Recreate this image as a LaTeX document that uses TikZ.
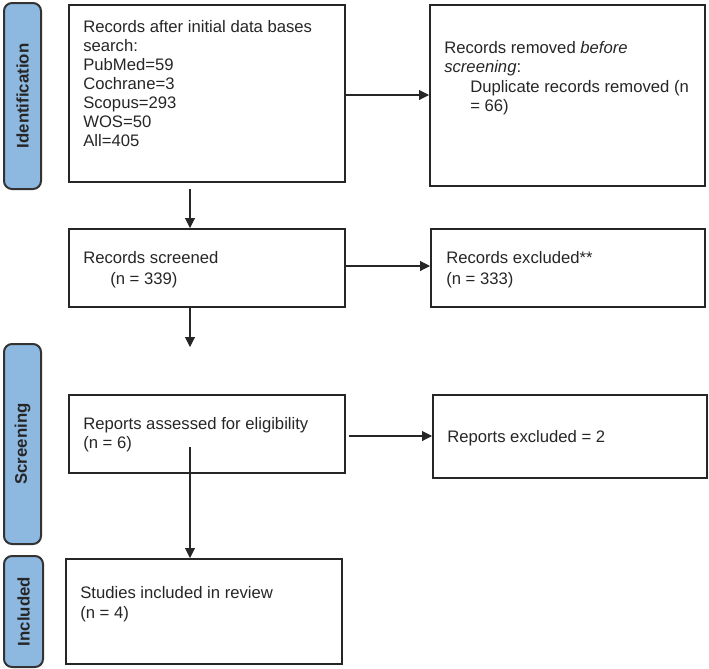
\documentclass[tikz,border=0pt]{standalone}
\usepackage{fontspec}
\setmainfont{Liberation Sans}
\usetikzlibrary{arrows.meta}
\definecolor{barfill}{HTML}{8DB8E0}
\definecolor{barline}{HTML}{333333}
\tikzset{
  box/.style={draw=black!85, line width=1.4pt, anchor=north west, inner sep=0pt},
  bar/.style={draw=barline, fill=barfill, line width=1.5pt, rounded corners=6pt, anchor=north west, inner sep=0pt},
  bartext/.style={font=\fontsize{12.6}{14}\selectfont\bfseries, text=black!85, rotate=90},
  txt/.style={font=\fontsize{12.5}{14.6}\selectfont, anchor=base west, inner sep=0pt, text=black!85},
  arr/.style={draw=black!85, line width=0.8pt, -{Triangle[length=7.5pt,width=7.5pt]}}
}
\begin{document}
\begin{tikzpicture}[x=0.75pt,y=-0.75pt]
\useasboundingbox (0,0) rectangle (709,668);
% side bars
\node[bar, minimum width=37*0.75pt, minimum height=186*0.75pt] (bar1) at (3,2) {};
\node[bar, minimum width=37*0.75pt, minimum height=200*0.75pt] (bar2) at (3,343) {};
\node[bar, minimum width=39*0.75pt, minimum height=111*0.75pt] (bar3) at (3,555) {};
\node[bartext] (lab1) at (bar1.center) {Identification};
\node[bartext] (lab2) at (bar2.center) {Screening};
\node[bartext] (lab3) at (bar3.center) {Included};
% boxes
\node[box, minimum width=276*0.75pt, minimum height=177*0.75pt] (b1) at (68,4) {};
\node[box, minimum width=275*0.75pt, minimum height=181*0.75pt] (b2) at (429,4) {};
\node[box, minimum width=276*0.75pt, minimum height=78*0.75pt] (b3) at (68,228) {};
\node[box, minimum width=274*0.75pt, minimum height=78*0.75pt] (b4) at (430,228) {};
\node[box, minimum width=276*0.75pt, minimum height=78*0.75pt] (b5) at (68,394) {};
\node[box, minimum width=274*0.75pt, minimum height=83*0.75pt] (b6) at (432,394) {};
\node[box, minimum width=276*0.75pt, minimum height=105*0.75pt] (b7) at (65,558) {};
% texts
\node[txt] (t1a) at (83,32) {Records after initial data bases};
\node[txt] (t1b) at (83,51) {search:};
\node[txt] (t1c) at (83,70) {PubMed=59};
\node[txt] (t1d) at (83,89) {Cochrane=3};
\node[txt] (t1e) at (83,108) {Scopus=293};
\node[txt] (t1f) at (83,127) {WOS=50};
\node[txt] (t1g) at (83,146) {All=405};
\node[txt] (t2a) at (444,53) {Records removed \textit{before}};
\node[txt] (t2b) at (444,72) {\textit{screening}:};
\node[txt] (t2c) at (470,92) {Duplicate records removed (n};
\node[txt] (t2d) at (470,111) {= 66)};
\node[txt] (t3a) at (83,263) {Records screened};
\node[txt] (t3b) at (110,284) {(n = 339)};
\node[txt] (t4a) at (446,263) {Records excluded**};
\node[txt] (t4b) at (446,284) {(n = 333)};
\node[txt] (t5a) at (83,429) {Reports assessed for eligibility};
\node[txt] (t5b) at (83,448) {(n = 6)};
\node[txt] (t6a) at (447,442) {Reports excluded = 2};
\node[txt] (t7a) at (80,598) {Studies included in review};
\node[txt] (t7b) at (80,618) {(n = 4)};
% connector helpers
\coordinate (ax) at (190,0);
\coordinate (free3) at (190,347);
\coordinate (s5) at (190,447);
% connectors
\draw[arr] (b1.east |- 0,95) -- (b2.west |- 0,95);
\draw[arr] ([yshift=-6*0.75pt]b1.south -| ax) -- (b3.north -| ax);
\draw[arr] (b3.east |- 0,266) -- (b4.west |- 0,266);
\draw[arr] (b3.south -| ax) -- (free3);
\draw[arr] ([xshift=3*0.75pt]b5.east |- 0,436) -- (b6.west |- 0,436);
\draw[arr] (s5) -- (b7.north -| ax);
\end{tikzpicture}
\end{document}
